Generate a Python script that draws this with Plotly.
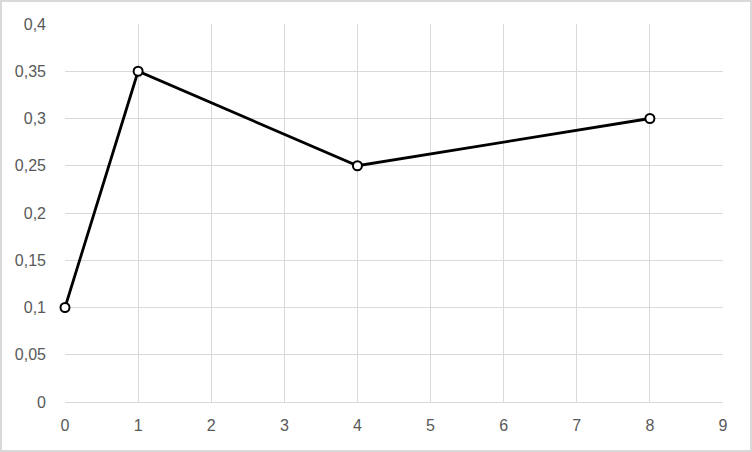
import plotly.graph_objects as go

x_vals = [0, 1, 4, 8]
y_vals = [0.1, 0.35, 0.25, 0.3]
y_ticks = [0, 0.05, 0.1, 0.15, 0.2, 0.25, 0.3, 0.35, 0.4]
x_ticks = list(range(0, 10))

fig = go.Figure()
fig.add_trace(go.Scatter(
    x=x_vals, y=y_vals, mode="lines+markers",
    line=dict(color="black", width=2.8),
    marker=dict(symbol="circle", size=9, color="white", line=dict(color="black", width=2)),
    cliponaxis=False,
))

font = dict(family="Liberation Sans, Arial, sans-serif", size=16, color="#595959")
fig.update_layout(
    width=752, height=452,
    margin=dict(l=65, r=29, t=24, b=50),
    paper_bgcolor="white", plot_bgcolor="white",
    separators=",.",
    showlegend=False,
    font=font,
    xaxis=dict(range=[0, 9], tickvals=x_ticks, showgrid=True, gridcolor="#d9d9d9", gridwidth=1,
               zeroline=False, showline=True, linecolor="#d9d9d9", linewidth=1,
               ticks="", ticklabelstandoff=9, tickfont=font),
    yaxis=dict(range=[0, 0.4], tickvals=y_ticks, ticktext=[str(v).replace(".", ",") for v in y_ticks],
               showgrid=True, gridcolor="#d9d9d9", gridwidth=1,
               zeroline=False, showline=False, ticks="", ticklabelstandoff=18, tickfont=font),
    shapes=[dict(type="rect", xref="paper", yref="paper", x0=-64/658, x1=1+28/658,
                 y0=-49/378, y1=1+23/378, line=dict(color="#d9d9d9", width=2))],
)
fig.write_html("out.html", config={"displayModeBar": False},
               post_script="document.body.style.margin='0';document.body.style.overflow='hidden';")
